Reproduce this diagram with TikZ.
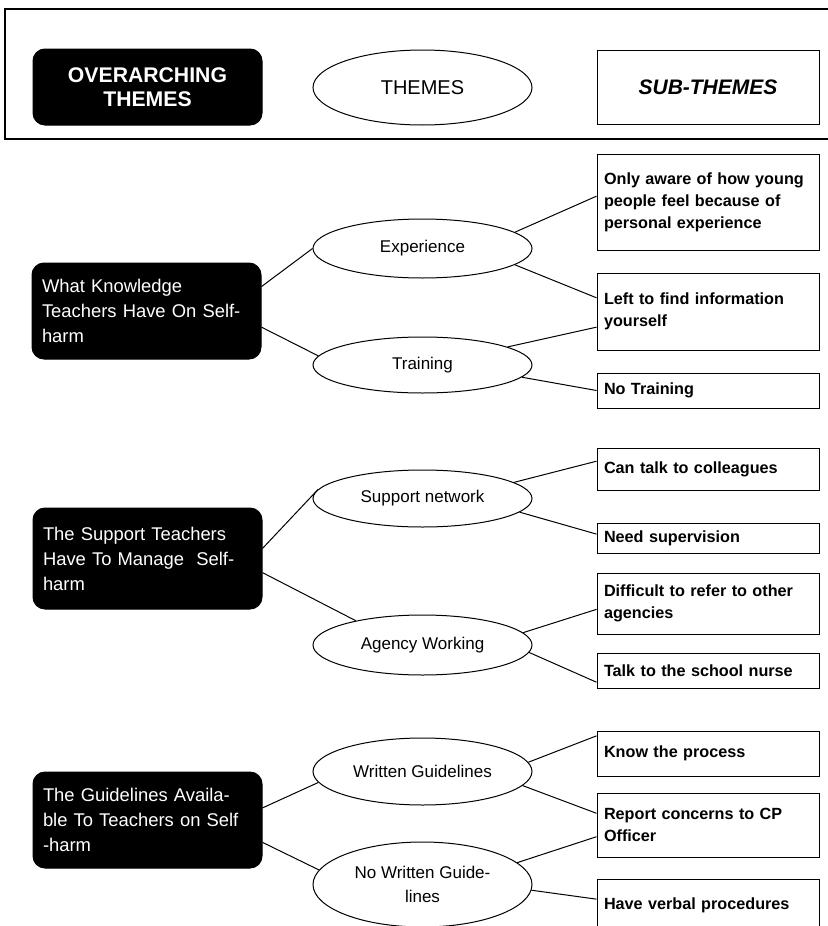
\documentclass[tikz,border=0pt]{standalone}
\usepackage{fontspec}
\setmainfont{Liberation Sans}
\usepackage{tikz}
\usetikzlibrary{shapes.geometric}

\begin{document}
\begin{tikzpicture}[x=0.5pt, y=-0.5pt]
        \tikzstyle{overTheme} = [draw, fill=black, text=white, rectangle,
            rounded corners=6pt, minimum width=114.5pt, text width=104.5pt,
            inner xsep=5pt, align=left, line width=0.5pt,
            font=\fontsize{9.2}{12.5}\selectfont]
        \tikzstyle{theme} = [draw, fill=white, ellipse, inner sep=0pt,
            minimum width=109.5pt, align=center, line width=0.5pt,
            font=\fontsize{8.5}{12}\selectfont]
        \tikzstyle{subTheme} = [draw, fill=white, rectangle,
            minimum width=111pt, text width=104pt, inner xsep=3.5pt,
            align=left, line width=0.5pt,
            font=\fontsize{8.1}{11}\selectfont\bfseries]
        \tikzstyle{themeEdge} = [black, line width=0.5pt];
        \useasboundingbox (0,0) rectangle (827,926);

        % key
        \draw[line width=0.8pt] (5,9) rectangle (840,139);
        \node[overTheme, minimum height=38pt, align=center,
            font=\fontsize{10.6}{12}\selectfont\bfseries]
            (nodeKeyOver) at (147.5,87) {OVERARCHING\\THEMES};
        \node[theme, minimum height=37.5pt,
            font=\fontsize{10}{12}\selectfont]
            (nodeKeyTheme) at (422.5,87.5) {THEMES};
        \node[subTheme, minimum height=37pt, align=center,
            font=\fontsize{10.5}{12}\selectfont\bfseries\itshape]
            (nodeKeySub) at (708,87) {SUB-THEMES};

        % knowledge
        \node[overTheme, minimum height=48pt] (nodeKnow) at (146.5,311)
            {What Knowledge\\Teachers Have On Self-\\harm};
        \node[theme, minimum height=29.5pt] (nodeExp) at (422.5,248.5)
            {Experience};
        \node[theme, minimum height=28pt] (nodeTrain) at (422.5,365)
            {Training};
        \node[subTheme, minimum height=48pt] (nodeAware) at (708,202)
            {Only aware of how young\\people feel because of\\personal experience};
        \node[subTheme, minimum height=38.5pt] (nodeFind) at (708,311.5)
            {Left to find information\\yourself};
        \node[subTheme, minimum height=17.5pt] (nodeNoTrain) at (708,390.5)
            {No Training};

        % support
        \node[overTheme, minimum height=50.5pt] (nodeSupport) at (147.5,558.5)
            {The Support Teachers\\Have To Manage~ Self-\\harm};
        \node[theme, minimum height=28.5pt] (nodeNetwork) at (422.5,498.5)
            {Support network};
        \node[theme, minimum height=30pt] (nodeAgency) at (422.5,645)
            {Agency Working};
        \node[subTheme, minimum height=21pt] (nodeColleague) at (708,469)
            {Can talk to colleagues};
        \node[subTheme, minimum height=15pt] (nodeSuper) at (708,538)
            {Need supervision};
        \node[subTheme, minimum height=30.5pt] (nodeRefer) at (708,603.5)
            {Difficult to refer to other\\agencies};
        \node[subTheme, minimum height=17.5pt] (nodeNurse) at (708,670.5)
            {Talk to the school nurse};

        % guidelines
        \node[overTheme, minimum height=48pt] (nodeGuide) at (147.5,820)
            {The Guidelines Availa-\\ble To Teachers on Self\\-harm};
        \node[theme, minimum height=33.5pt] (nodeWritten) at (422.5,771.5)
            {Written Guidelines};
        \node[theme, minimum height=42.5pt] (nodeNoWritten) at (422.5,884.5)
            {No Written Guide-\\lines};
        \node[subTheme, minimum height=22.5pt] (nodeProcess) at (708,753.5)
            {Know the process};
        \node[subTheme, minimum height=32pt] (nodeReport) at (708,825)
            {Report concerns to CP\\Officer};
        \node[subTheme, minimum height=26pt] (nodeVerbal) at (708,905)
            {Have verbal procedures};

        \draw (nodeKnow.12)
        edge[themeEdge] (nodeExp.west);
        \draw (nodeKnow.-8)
        edge[themeEdge] (nodeTrain.175);
        \draw (nodeExp.10)
        edge[themeEdge] (nodeAware.177);
        \draw (nodeExp.-10)
        edge[themeEdge] (nodeFind.173);
        \draw (nodeTrain.12)
        edge[themeEdge] (nodeFind.188);
        \draw (nodeTrain.-7)
        edge[themeEdge] (nodeNoTrain.west);

        \draw (nodeSupport.5)
        edge[themeEdge] (nodeNetwork.175);
        \draw (nodeSupport.-7)
        edge[themeEdge] (nodeAgency.160);
        \draw (nodeNetwork.10)
        edge[themeEdge] (nodeColleague.176);
        \draw (nodeNetwork.-8)
        edge[themeEdge] (nodeSuper.178);
        \draw (nodeAgency.7)
        edge[themeEdge] (nodeRefer.183);
        \draw (nodeAgency.-4)
        edge[themeEdge] (nodeNurse.186);

        \draw (nodeGuide.6)
        edge[themeEdge] (nodeWritten.186);
        \draw (nodeGuide.-11)
        edge[themeEdge] (nodeNoWritten.172);
        \draw (nodeWritten.5)
        edge[themeEdge] (nodeProcess.171);
        \draw (nodeWritten.-8)
        edge[themeEdge] (nodeReport.174);
        \draw (nodeNoWritten.13)
        edge[themeEdge] (nodeReport.186);
        \draw (nodeNoWritten.-3)
        edge[themeEdge] (nodeVerbal.177);
    \end{tikzpicture}
\end{document}
